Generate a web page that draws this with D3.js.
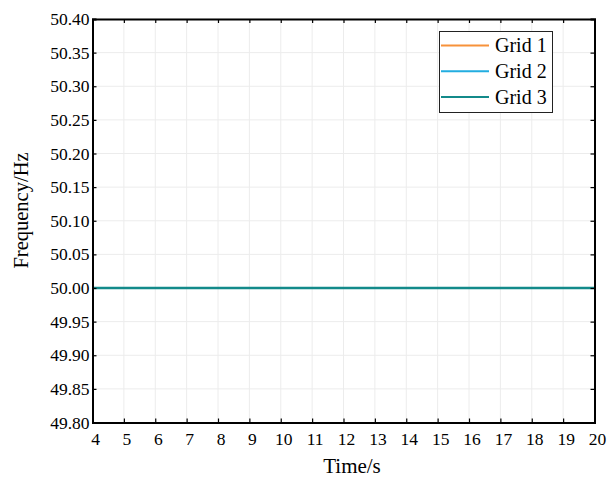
<!DOCTYPE html>
<html><head><meta charset="utf-8">
<script src="https://cdn.jsdelivr.net/npm/d3@7"></script>
<style>body{margin:0;background:#fff}svg{display:block}text{font-family:"Liberation Serif","Times New Roman",serif}</style>
</head><body>
<svg id="c" width="609" height="478"></svg>
<script>
const time = [4, 6, 8, 10, 12, 14, 16, 18, 20];
const grid1 = [50, 50, 50, 50, 50, 50, 50, 50, 50];
const grid2 = [50, 50, 50, 50, 50, 50, 50, 50, 50];
const grid3 = [50, 50, 50, 50, 50, 50, 50, 50, 50];
const seriesNames = ["Grid 1", "Grid 2", "Grid 3"];
const seriesColors = ["#f7923a", "#22ade0", "#138a8a"];
const xTicks = d3.range(4, 21, 1);
const yTicks = d3.range(0, 13).map(i => +(49.8 + i * 0.05).toFixed(2));

const svg = d3.select("#c");
const L = 92.5, R = 594.5, T = 19, B = 422.5;
const x = d3.scaleLinear().domain([4, 20]).range([L, R]);
const y = d3.scaleLinear().domain([49.8, 50.4]).range([B, T]);

// grid
svg.append("g").selectAll("line").data(xTicks).join("line")
  .attr("x1", d => x(d)).attr("x2", d => x(d)).attr("y1", T).attr("y2", B)
  .attr("stroke", "#ececec").attr("stroke-width", 1);
svg.append("g").selectAll("line").data(yTicks).join("line")
  .attr("y1", d => y(d)).attr("y2", d => y(d)).attr("x1", L).attr("x2", R)
  .attr("stroke", "#ececec").attr("stroke-width", 1);

// series
const data = [grid1, grid2, grid3];
const line = d3.line().x((d, i) => x(time[i])).y(d => y(d));
data.forEach((s, k) => {
  svg.append("path").datum(s).attr("d", line).attr("fill", "none")
    .attr("stroke", seriesColors[k]).attr("stroke-width", k === 2 ? 2.5 : 2);
});

// axes
const fmt = d3.format(".2f");
const ax = svg.append("g").attr("transform", `translate(0,${B})`)
  .call(d3.axisBottom(x).tickValues(xTicks).tickSize(-4).tickPadding(10).tickFormat(d3.format("d")));
const ay = svg.append("g").attr("transform", `translate(${L},0)`)
  .call(d3.axisLeft(y).tickValues(yTicks).tickSize(-4).tickPadding(3).tickFormat(fmt));
const at = svg.append("g").attr("transform", `translate(0,${T})`)
  .call(d3.axisTop(x).tickValues(xTicks).tickSize(-4).tickFormat(""));
const ar = svg.append("g").attr("transform", `translate(${R},0)`)
  .call(d3.axisRight(y).tickValues(yTicks).tickSize(-4).tickFormat(""));
[ax, ay, at, ar].forEach(g => {
  g.attr("font-family", null).attr("font-size", null);
  g.select(".domain").attr("stroke", "#000").attr("stroke-width", 2);
  g.selectAll(".tick line").attr("stroke", "#000").attr("stroke-width", 1.2);
  g.selectAll(".tick text").attr("fill", "#000")
    .style("font-family", "Liberation Serif").style("font-size", "17.5px");
});
ax.selectAll(".tick text").attr("dx", 2.5);

// axis titles
svg.append("text").attr("x", 352).attr("y", 473).attr("text-anchor", "middle")
  .style("font-size", "21px").text("Time/s");
svg.append("text").attr("transform", `translate(28,210.5) rotate(-90)`)
  .attr("text-anchor", "middle").style("font-size", "20.5px").text("Frequency/Hz");

// legend
const lg = svg.append("g");
lg.append("rect").attr("x", 439.5).attr("y", 31.5).attr("width", 113).attr("height", 81)
  .attr("fill", "#fff").attr("stroke", "#222").attr("stroke-width", 1);
seriesNames.forEach((n, k) => {
  const yy = 45.5 + k * 25.8;
  lg.append("line").attr("x1", 441).attr("x2", 489).attr("y1", yy).attr("y2", yy)
    .attr("stroke", seriesColors[k]).attr("stroke-width", 2);
  lg.append("text").attr("x", 495).attr("y", yy + 6.5).style("font-size", "20px").text(n);
});
</script>
</body></html>
